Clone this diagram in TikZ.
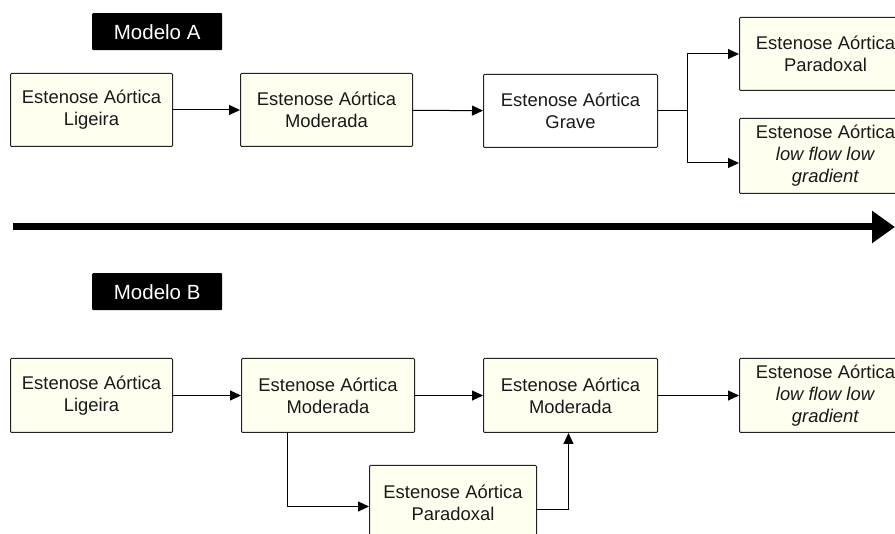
\documentclass[tikz,border=0pt]{standalone}
\usepackage{fontspec}
\setmainfont{Liberation Sans}
\usetikzlibrary{arrows.meta,positioning,calc}
\definecolor{boxfill}{HTML}{FFFFF0}
\definecolor{boxline}{HTML}{222222}
\begin{document}
\begin{tikzpicture}[x=1pt,y=-1pt,
  box/.style={draw=boxline,line width=1pt,fill=boxfill,rounded corners=1pt,
    anchor=north west,align=center,inner sep=2pt,
    font=\fontsize{18.4}{22}\selectfont,text=black!90},
  label/.style={fill=black,text=white,anchor=north west,
    minimum width=130,minimum height=37,rounded corners=1pt,
    font=\fontsize{20.5}{24}\selectfont},
  conn/.style={draw=black,line width=1pt,-{Triangle[length=11pt,width=10pt]}},
  line/.style={draw=black,line width=1pt}]
\useasboundingbox (0,0) rectangle (895,534);
\clip (0,0) rectangle (895,534);

% Modelo A
\node[label] (la) at (92,13) {Modelo A};
\node[box,minimum width=162,minimum height=73] (a1) at (10,73) {Estenose Aórtica\\Ligeira};
\node[box,minimum width=172,minimum height=73] (a2) at (240,73) {Estenose Aórtica\\Moderada};
\node[box,fill=white,minimum width=174,minimum height=73] (a3) at (483,74) {Estenose Aórtica\\Grave};
\node[box,minimum width=172,minimum height=73] (a4) at (739,17) {Estenose Aórtica\\Paradoxal};
\node[box,minimum width=172,minimum height=75] (a5) at (739,118) {Estenose Aórtica\\\textit{low flow low}\\\textit{gradient}};
\coordinate (split) at ($(a3.east)+(29,0)$);
\draw[conn] (a1) -- (a2);
\draw[conn] (a2) -- (a3);
\draw[line] (a3.east) -- (split);
\draw[conn] (split) |- (a4.west);
\draw[conn] (split) |- ($(a5.west)+(0,7)$);

% big arrow
\coordinate (bs) at (13,227);
\coordinate (be) at (895,227);
\draw[line width=7pt,-{Triangle[length=23pt,width=31pt]}] (bs) -- (be);

% Modelo B
\node[label] (lb) at (92,273) {Modelo B};
\node[box,minimum width=162,minimum height=74] (b1) at (10,358) {Estenose Aórtica\\Ligeira};
\node[box,minimum width=173,minimum height=74] (b2) at (241,358) {Estenose Aórtica\\Moderada};
\node[box,minimum width=174,minimum height=74] (b3) at (483,358) {Estenose Aórtica\\Moderada};
\node[box,minimum width=172,minimum height=74] (b5) at (739,358) {Estenose Aórtica\\\textit{low flow low}\\\textit{gradient}};
\node[box,minimum width=167,minimum height=74] (b4) at (369,465) {Estenose Aórtica\\Paradoxal};
\draw[conn] (b1) -- (b2);
\draw[conn] (b2) -- (b3);
\draw[conn] (b3) -- (b5);
\draw[conn] ([xshift=-41pt]b2.south) |- ([yshift=-4pt]b4.west);
\draw[conn] ([yshift=-7pt]b4.east) -| ([xshift=-2pt]b3.south);
\end{tikzpicture}
\end{document}
